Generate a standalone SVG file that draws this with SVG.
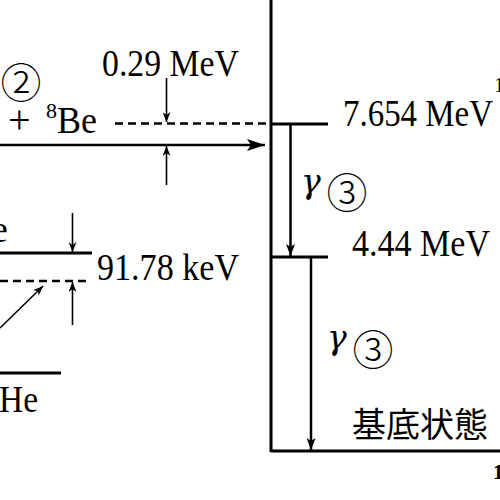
<svg xmlns="http://www.w3.org/2000/svg" width="500" height="500" viewBox="0 0 500 500">
<style>
  .t { font-family: "Liberation Serif", "Times New Roman", serif; font-size: 38px; fill: #000; }
  .g { font-family: "DejaVu Serif", "Liberation Serif", serif; font-style: italic; font-size: 33px; fill: #000; }
  .c { font-family: "Noto Sans CJK JP", "Noto Sans", sans-serif; font-size: 41px; font-weight: 300; fill: #000; }
  .k { font-family: "Noto Sans CJK JP", "Noto Sans", sans-serif; font-size: 34px; fill: #000; }
  .lv { stroke: #000; stroke-width: 3; fill: none; }
  .dash { stroke: #000; stroke-width: 2.5; stroke-dasharray: 8 5; fill: none; }
  .thin { stroke: #000; stroke-width: 1.6; fill: none; }
  .main { stroke: #000; stroke-width: 2.5; fill: none; }
</style>
<defs>
  <marker id="ah" markerWidth="10" markerHeight="8" refX="10" refY="4" orient="auto" markerUnits="userSpaceOnUse">
    <path d="M0,0 L10,4 L0,8 L3,4 Z" fill="#000"/>
  </marker>
  <marker id="ahBig" markerWidth="18" markerHeight="12" refX="18" refY="6" orient="auto" markerUnits="userSpaceOnUse">
    <path d="M0,0 L18,6 L0,12 L4,6 Z" fill="#000"/>
  </marker>
  <marker id="ahMid" markerWidth="12" markerHeight="9" refX="12" refY="4.5" orient="auto" markerUnits="userSpaceOnUse">
    <path d="M0,0 L12,4.5 L0,9 L3,4.5 Z" fill="#000"/>
  </marker>
</defs>

<g id="axis">
  <line class="lv" x1="271" y1="0" x2="271" y2="452"/>
</g>

<g id="level-7654">
  <line class="lv" x1="271" y1="124" x2="328" y2="124"/>
  <text class="t" x="343" y="126" textLength="150" lengthAdjust="spacingAndGlyphs">7.654 MeV</text>
  <text class="t" x="494" y="92" style="font-size:21px">1</text>
</g>

<g id="level-444">
  <line class="lv" x1="271" y1="257" x2="328" y2="257"/>
  <text class="t" x="352" y="256" textLength="138" lengthAdjust="spacingAndGlyphs">4.44 MeV</text>
</g>

<g id="ground">
  <line class="lv" x1="271" y1="451" x2="500" y2="451"/>
  <text class="k" x="352" y="437">基底状態</text>
  <text class="t" x="493" y="479" style="font-size:21px;font-weight:bold">1</text>
</g>

<g id="be8-level">
  <line class="dash" x1="115" y1="123.5" x2="268" y2="123.5"/>
  <text class="c" x="21" y="80" text-anchor="middle" dominant-baseline="central">②</text>
  <text class="t" x="8" y="133" style="font-size:40px">+</text>
  <text class="t" x="46" y="118" style="font-size:22px">8</text>
  <text class="t" x="57" y="133" textLength="40" lengthAdjust="spacingAndGlyphs">Be</text>
  <text class="t" x="102" y="76" textLength="137" lengthAdjust="spacingAndGlyphs">0.29 MeV</text>
</g>

<g id="be8-ground">
  <text class="t" x="-9" y="242">e</text>
  <line class="lv" x1="0" y1="253" x2="92" y2="253"/>
  <line class="dash" x1="0" y1="281" x2="88" y2="281"/>
  <text class="t" x="97" y="280" textLength="142" lengthAdjust="spacingAndGlyphs">91.78 keV</text>
</g>

<g id="he-level">
  <line class="lv" x1="0" y1="373" x2="61" y2="373"/>
  <text class="t" x="-1" y="412" textLength="39" lengthAdjust="spacingAndGlyphs">He</text>
</g>

<g id="gamma-labels">
  <text class="g" x="301" y="193">γ</text>
  <text class="c" x="347" y="190" text-anchor="middle" dominant-baseline="central">③</text>
  <text class="g" x="327" y="349">γ</text>
  <text class="c" x="373" y="347" text-anchor="middle" dominant-baseline="central">③</text>
</g>

<g id="connectors">
  <line class="main" x1="0" y1="145" x2="265" y2="145" marker-end="url(#ahBig)"/>
  <line class="thin" x1="166.5" y1="78" x2="166.5" y2="122" marker-end="url(#ah)"/>
  <line class="thin" x1="166.5" y1="185" x2="166.5" y2="146" marker-end="url(#ah)"/>
  <line class="main" x1="290.5" y1="125" x2="290.5" y2="256" marker-end="url(#ahMid)"/>
  <line class="main" x1="311" y1="258" x2="311" y2="450" marker-end="url(#ahMid)"/>
  <line class="thin" x1="72.5" y1="213" x2="72.5" y2="252" marker-end="url(#ah)"/>
  <line class="thin" x1="72.5" y1="325" x2="72.5" y2="282" marker-end="url(#ah)"/>
  <line class="thin" x1="0" y1="328" x2="43" y2="286" marker-end="url(#ah)"/>
</g>
</svg>
